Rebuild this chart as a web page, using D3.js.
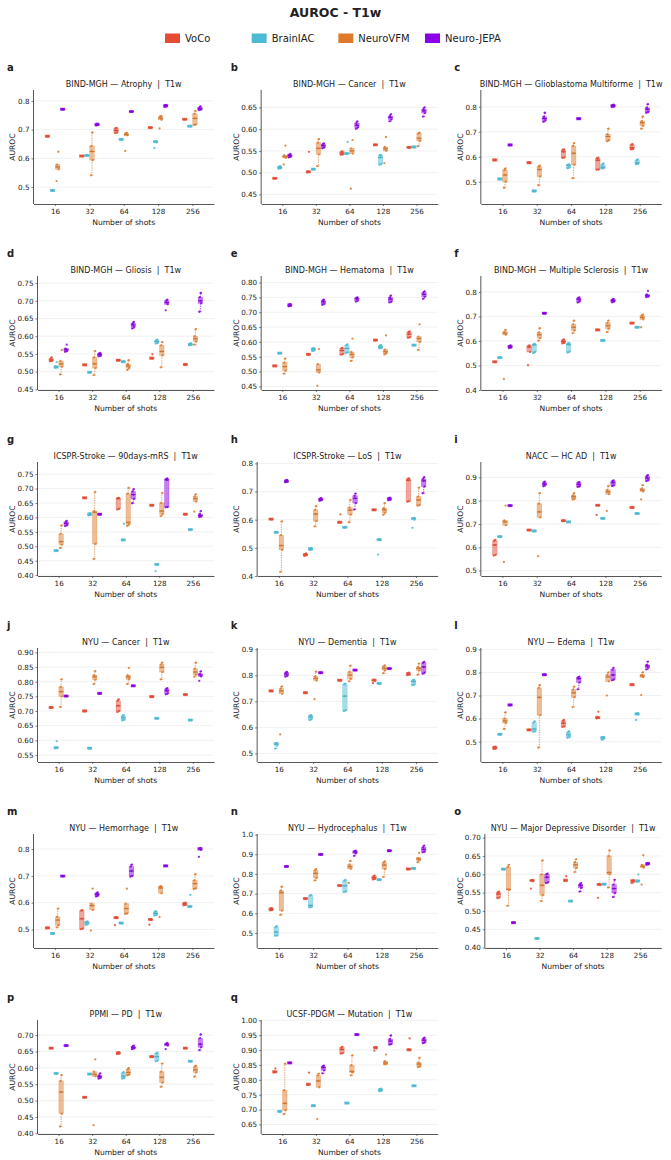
<!DOCTYPE html>
<html>
<head>
<meta charset="utf-8">
<script src="https://cdn.jsdelivr.net/npm/d3@7"></script>
<style>
  body { margin: 0; background: #fff; }
  text { font-family: "DejaVu Sans", sans-serif; fill: #222; }
</style>
</head>
<body>
<svg id="svg"></svg>
<script>
// shots and models
const shots = [16, 32, 64, 128, 256];
const models = ["VoCo", "BrainIAC", "NeuroVFM", "Neuro-JEPA"];
const modelColors = ["#E64B35", "#4DBBD5", "#DD7A2C", "#8B00E6"];

const panelLetters = ["a","b","c","d","e","f","g","h","i","j","k","l","m","n","o","p","q"];
const panelTitles = [
  "BIND-MGH — Atrophy  |  T1w",
  "BIND-MGH — Cancer  |  T1w",
  "BIND-MGH — Glioblastoma Multiforme  |  T1w",
  "BIND-MGH — Gliosis  |  T1w",
  "BIND-MGH — Hematoma  |  T1w",
  "BIND-MGH — Multiple Sclerosis  |  T1w",
  "ICSPR-Stroke — 90days-mRS  |  T1w",
  "ICSPR-Stroke — LoS  |  T1w",
  "NACC — HC AD  |  T1w",
  "NYU — Cancer  |  T1w",
  "NYU — Dementia  |  T1w",
  "NYU — Edema  |  T1w",
  "NYU — Hemorrhage  |  T1w",
  "NYU — Hydrocephalus  |  T1w",
  "NYU — Major Depressive Disorder  |  T1w",
  "PPMI — PD  |  T1w",
  "UCSF-PDGM — Mutation  |  T1w"
];

const yDomains = [
  [0.441, 0.838], [0.428, 0.69], [0.411, 0.867],
  [0.448, 0.77], [0.438, 0.822], [0.40, 0.865],
  [0.397, 0.792], [0.40, 0.805], [0.477, 0.966],
  [0.526, 0.915], [0.467, 0.905], [0.412, 0.906],
  [0.431, 0.856], [0.424, 1.003], [0.399, 0.71],
  [0.398, 0.746], [0.618, 1.001]
];

const yTicks = [
  [0.5, 0.6, 0.7, 0.8],
  [0.45, 0.50, 0.55, 0.60, 0.65],
  [0.5, 0.6, 0.7, 0.8],
  [0.45, 0.50, 0.55, 0.60, 0.65, 0.70, 0.75],
  [0.45, 0.50, 0.55, 0.60, 0.65, 0.70, 0.75, 0.80],
  [0.4, 0.5, 0.6, 0.7, 0.8],
  [0.40, 0.45, 0.50, 0.55, 0.60, 0.65, 0.70, 0.75],
  [0.4, 0.5, 0.6, 0.7, 0.8],
  [0.5, 0.6, 0.7, 0.8, 0.9],
  [0.55, 0.60, 0.65, 0.70, 0.75, 0.80, 0.85, 0.90],
  [0.5, 0.6, 0.7, 0.8, 0.9],
  [0.5, 0.6, 0.7, 0.8, 0.9],
  [0.5, 0.6, 0.7, 0.8],
  [0.5, 0.6, 0.7, 0.8, 0.9, 1.0],
  [0.40, 0.45, 0.50, 0.55, 0.60, 0.65, 0.70],
  [0.40, 0.45, 0.50, 0.55, 0.60, 0.65, 0.70],
  [0.65, 0.70, 0.75, 0.80, 0.85, 0.90, 0.95, 1.00]
];

// each panel: rows = models, columns = shots
// entry is a single value (all seeds equal) or [min, q1, median, q3, max]
const atrophy = [
  [0.677, 0.608, [0.688,0.690,0.697,0.705,0.706], 0.707, 0.736],
  [0.488, 0.610, 0.666, [0.636,0.656,0.658,0.658,0.659], 0.712],
  [[0.521,0.562,0.570,0.578,0.623],[0.541,0.594,0.624,0.643,0.690],[0.626,0.680,0.683,0.687,0.689],[0.704,0.734,0.740,0.745,0.748],[0.716,0.718,0.739,0.755,0.765]],
  [0.771, [0.714,0.716,0.718,0.720,0.721], 0.763, [0.779,0.781,0.783,0.785,0.786], [0.768,0.770,0.773,0.777,0.781]]
];
const cancerMGH = [
  [0.487, [0.501,0.502,0.502,0.503,0.548], [0.541,0.542,0.545,0.548,0.549], 0.564, 0.558],
  [[0.509,0.510,0.512,0.514,0.515], 0.508, [0.543,0.544,0.544,0.545,0.571], [0.518,0.520,0.535,0.540,0.541], 0.559],
  [[0.519,0.534,0.537,0.540,0.562],[0.515,0.542,0.556,0.569,0.577],[0.463,0.544,0.550,0.556,0.575],[0.522,0.550,0.555,0.559,0.582],[0.561,0.573,0.579,0.590,0.592]],
  [[0.535,0.537,0.539,0.541,0.543],[0.556,0.558,0.562,0.565,0.567],[0.601,0.604,0.609,0.614,0.618],[0.618,0.622,0.627,0.630,0.634],[0.629,0.637,0.642,0.646,0.650]]
];
const glioblastoma = [
  [0.587, 0.576, [0.596,0.597,0.620,0.628,0.629], [0.548,0.549,0.586,0.594,0.596], [0.629,0.631,0.636,0.648,0.650]],
  [0.511, 0.463, [0.554,0.557,0.566,0.568,0.569], [0.553,0.554,0.558,0.568,0.573], [0.570,0.572,0.576,0.586,0.589]],
  [[0.476,0.500,0.527,0.547,0.553],[0.486,0.521,0.549,0.560,0.564],[0.514,0.568,0.614,0.643,0.654],[0.662,0.666,0.681,0.690,0.712],[0.712,0.724,0.736,0.742,0.760]],
  [0.647, [0.740,0.745,0.753,0.760,0.776], 0.752, [0.799,0.801,0.804,0.806,0.808], [0.776,0.779,0.790,0.796,0.810]]
];
const gliosis = [
  [[0.529,0.531,0.533,0.536,0.540], 0.519, 0.532, [0.537,0.537,0.538,0.539,0.549], 0.520],
  [[0.511,0.512,0.513,0.515,0.527], 0.498, 0.528, [0.579,0.581,0.585,0.588,0.590], [0.574,0.576,0.577,0.578,0.580]],
  [[0.492,0.514,0.522,0.530,0.561],[0.490,0.510,0.522,0.540,0.558],[0.505,0.510,0.516,0.521,0.532],[0.512,0.546,0.557,0.574,0.583],[0.576,0.585,0.593,0.600,0.620]],
  [[0.556,0.558,0.562,0.565,0.576],[0.543,0.545,0.548,0.551,0.553],[0.622,0.626,0.632,0.636,0.640],[0.673,0.690,0.695,0.700,0.703],[0.669,0.693,0.700,0.710,0.722]]
];
const hematoma = [
  [0.519, 0.558, [0.557,0.559,0.571,0.578,0.580], 0.606, [0.614,0.616,0.626,0.633,0.635]],
  [0.562, [0.569,0.571,0.575,0.578,0.579], [0.563,0.565,0.578,0.589,0.592], [0.578,0.579,0.583,0.587,0.589], 0.589],
  [[0.493,0.503,0.517,0.530,0.544],[0.452,0.497,0.506,0.525,0.576],[0.536,0.548,0.558,0.566,0.611],[0.558,0.562,0.567,0.574,0.622],[0.573,0.600,0.611,0.618,0.659]],
  [[0.720,0.722,0.724,0.726,0.727],[0.725,0.728,0.735,0.739,0.742],[0.736,0.739,0.745,0.748,0.750],[0.733,0.736,0.744,0.750,0.756],[0.745,0.752,0.760,0.766,0.770]]
];
const sclerosis = [
  [0.515, [0.501,0.555,0.575,0.580,0.582], [0.590,0.592,0.598,0.604,0.606], 0.645, 0.673],
  [0.532, [0.551,0.555,0.584,0.586,0.588], [0.553,0.556,0.585,0.590,0.592], 0.602, 0.656],
  [[0.445,0.625,0.632,0.637,0.645],[0.601,0.612,0.625,0.635,0.652],[0.632,0.643,0.656,0.668,0.683],[0.636,0.650,0.662,0.674,0.683],[0.656,0.688,0.696,0.703,0.707]],
  [[0.571,0.573,0.577,0.580,0.582], 0.713, [0.757,0.762,0.770,0.775,0.778], [0.758,0.761,0.765,0.769,0.772], [0.779,0.781,0.785,0.790,0.804]]
];
const mrs90 = [
  [null, 0.668, [0.627,0.630,0.665,0.667,0.668], 0.642, 0.611],
  [0.485, [0.607,0.609,0.611,0.613,0.615], [0.521,0.522,0.522,0.523,0.578], [0.414,0.436,0.437,0.437,0.438], 0.558],
  [[0.494,0.506,0.516,0.543,0.572],[0.456,0.508,0.618,0.622,0.688],[0.571,0.576,0.583,0.682,0.702],[0.605,0.612,0.622,0.650,0.685],[0.620,0.655,0.665,0.673,0.680]],
  [[0.570,0.573,0.579,0.584,0.588], 0.611, [0.649,0.664,0.679,0.690,0.698], [0.635,0.636,0.730,0.733,0.735], [0.601,0.603,0.607,0.612,0.622]]
];
const los = [
  [0.602, [0.471,0.474,0.476,0.478,0.480], [0.589,0.590,0.591,0.592,0.619], 0.635, [0.664,0.666,0.740,0.745,0.747]],
  [0.555, [0.493,0.495,0.496,0.498,0.500], 0.573, [0.476,0.528,0.529,0.530,0.531], [0.571,0.600,0.604,0.605,0.606]],
  [[0.415,0.493,0.508,0.545,0.594],[0.576,0.595,0.620,0.635,0.648],[0.591,0.618,0.634,0.643,0.670],[0.618,0.625,0.635,0.641,0.659],[0.650,0.652,0.670,0.682,0.714]],
  [[0.733,0.735,0.737,0.739,0.741],[0.667,0.670,0.672,0.675,0.677],[0.636,0.659,0.676,0.685,0.693],[0.669,0.671,0.674,0.676,0.678],[0.694,0.718,0.738,0.745,0.751]]
];
const hcAD = [
  [[0.565,0.568,0.610,0.628,0.632], 0.674, 0.714, [0.739,0.779,0.780,0.781,0.782], 0.771],
  [0.646, 0.670, 0.709, 0.724, 0.745],
  [[0.537,0.695,0.709,0.716,0.779],[0.562,0.728,0.752,0.787,0.832],[0.805,0.808,0.817,0.823,0.832],[0.756,0.828,0.838,0.846,0.863],[0.806,0.839,0.846,0.852,0.867]],
  [0.779, [0.862,0.867,0.872,0.878,0.882], [0.859,0.862,0.870,0.877,0.880], [0.863,0.866,0.877,0.884,0.887], [0.884,0.888,0.897,0.905,0.910]]
];
const cancerNYU = [
  [0.712, 0.700, [0.697,0.700,0.718,0.735,0.740], 0.749, 0.756],
  [[0.573,0.574,0.575,0.576,0.597], 0.573, [0.668,0.670,0.677,0.683,0.686], 0.675, 0.669],
  [[0.714,0.750,0.766,0.782,0.808],[0.792,0.807,0.817,0.822,0.836],[0.792,0.808,0.816,0.822,0.847],[0.808,0.833,0.849,0.859,0.865],[0.817,0.824,0.833,0.844,0.865]],
  [0.751, 0.760, 0.786, [0.757,0.760,0.769,0.775,0.778], [0.803,0.818,0.823,0.827,0.835]]
];
const dementia = [
  [0.740, 0.733, 0.781, [0.770,0.779,0.781,0.782,0.783], [0.801,0.803,0.805,0.808,0.810]],
  [[0.519,0.530,0.536,0.538,0.540],[0.628,0.632,0.640,0.645,0.647],[0.663,0.666,0.720,0.765,0.768], 0.769, [0.762,0.765,0.776,0.781,0.783]],
  [[0.573,0.729,0.740,0.749,0.757],[0.708,0.780,0.788,0.796,0.814],[0.777,0.786,0.801,0.813,0.837],[0.808,0.819,0.827,0.834,0.838],[0.802,0.819,0.827,0.832,0.845]],
  [[0.795,0.798,0.805,0.810,0.813], 0.810, 0.820, 0.826, [0.806,0.810,0.832,0.848,0.852]]
];
const edema = [
  [[0.468,0.470,0.474,0.477,0.478], 0.551, [0.564,0.566,0.580,0.590,0.594], [0.601,0.603,0.605,0.607,0.630], 0.747],
  [0.532, [0.543,0.545,0.555,0.583,0.588], [0.517,0.520,0.530,0.540,0.545], [0.508,0.513,0.517,0.519,0.521], [0.594,0.618,0.620,0.622,0.624]],
  [[0.555,0.581,0.590,0.600,0.627],[0.474,0.615,0.692,0.733,0.745],[0.650,0.693,0.712,0.726,0.738],[0.700,0.761,0.781,0.790,0.800],[0.702,0.780,0.785,0.788,0.800]],
  [0.659, 0.790, [0.727,0.757,0.773,0.779,0.782], [0.766,0.770,0.789,0.812,0.820], [0.813,0.820,0.828,0.833,0.847]]
];
const hemorrhage = [
  [0.506, [0.501,0.503,0.540,0.570,0.572], [0.516,0.543,0.544,0.545,0.546], [0.518,0.535,0.537,0.538,0.539], [0.590,0.592,0.595,0.598,0.600]],
  [0.485, [0.517,0.520,0.525,0.528,0.530], 0.524, [0.552,0.554,0.560,0.566,0.568], [0.584,0.585,0.586,0.587,0.629]],
  [[0.508,0.516,0.535,0.547,0.578],[0.496,0.573,0.589,0.596,0.652],[0.558,0.560,0.578,0.596,0.652],[0.547,0.635,0.655,0.660,0.662],[0.651,0.653,0.671,0.683,0.706]],
  [0.699, [0.623,0.626,0.631,0.635,0.638], [0.697,0.700,0.718,0.735,0.742], 0.737, [0.771,0.797,0.800,0.802,0.804]]
];
const hydrocephalus = [
  [[0.615,0.617,0.621,0.625,0.627], 0.675, 0.741, [0.772,0.775,0.781,0.788,0.792], 0.825],
  [[0.486,0.488,0.505,0.530,0.535],[0.630,0.632,0.640,0.690,0.693],[0.708,0.711,0.740,0.765,0.770], 0.771, 0.828],
  [[0.592,0.614,0.705,0.715,0.735],[0.767,0.780,0.803,0.818,0.825],[0.755,0.826,0.837,0.847,0.866],[0.785,0.825,0.845,0.858,0.864],[0.860,0.870,0.876,0.880,0.907]],
  [0.838, 0.899, [0.892,0.905,0.911,0.916,0.918], 0.918, [0.910,0.913,0.925,0.936,0.944]]
];
const depressive = [
  [[0.535,0.537,0.546,0.551,0.553],[0.561,0.581,0.583,0.584,0.585],[0.582,0.583,0.584,0.585,0.595],[0.536,0.571,0.572,0.573,0.574],[0.576,0.580,0.582,0.583,0.584]],
  [0.614, 0.425, 0.527, 0.573, [0.580,0.581,0.582,0.583,0.600]],
  [[0.514,0.557,0.559,0.620,0.626],[0.527,0.543,0.570,0.600,0.638],[0.606,0.617,0.626,0.633,0.641],[0.564,0.600,0.605,0.650,0.665],[0.572,0.618,0.622,0.626,0.652]],
  [0.468, [0.576,0.578,0.592,0.600,0.602], [0.553,0.563,0.569,0.573,0.576], [0.538,0.549,0.561,0.572,0.585], [0.626,0.628,0.629,0.630,0.631]]
];
const parkinson = [
  [0.660, 0.510, [0.642,0.644,0.645,0.646,0.648], 0.634, 0.660],
  [0.583, 0.581, [0.567,0.569,0.575,0.584,0.587], [0.620,0.623,0.634,0.643,0.646], 0.620],
  [[0.421,0.460,0.526,0.560,0.578],[0.425,0.574,0.580,0.588,0.626],[0.577,0.579,0.586,0.595,0.599],[0.542,0.555,0.571,0.588,0.613],[0.573,0.586,0.594,0.603,0.606]],
  [0.668, [0.567,0.570,0.573,0.577,0.583], [0.657,0.660,0.662,0.665,0.668], [0.657,0.668,0.671,0.673,0.676], [0.654,0.663,0.672,0.690,0.702]]
];
const mutation = [
  [[0.825,0.826,0.827,0.828,0.838],[0.783,0.784,0.785,0.786,0.824],[0.888,0.890,0.902,0.908,0.911],[0.898,0.906,0.908,0.909,0.910],[0.900,0.900,0.901,0.902,0.939]],
  [0.694, 0.713, 0.722, [0.762,0.764,0.766,0.768,0.770], 0.780],
  [[0.685,0.698,0.721,0.765,0.854],[0.668,0.775,0.796,0.815,0.821],[0.815,0.825,0.828,0.849,0.882],[0.852,0.853,0.857,0.863,0.885],[0.843,0.845,0.853,0.858,0.874]],
  [0.857, [0.822,0.832,0.841,0.845,0.848], 0.952, [0.918,0.920,0.930,0.937,0.949], [0.923,0.926,0.933,0.938,0.942]]
];

const panelData = [atrophy, cancerMGH, glioblastoma, gliosis, hematoma, sclerosis,
  mrs90, los, hcAD, cancerNYU, dementia, edema, hemorrhage, hydrocephalus,
  depressive, parkinson, mutation];

// layout
const width = 671, height = 1160;
const colW = width / 3;
const rowH = 186;

const svg = d3.select("#svg")
  .attr("width", width)
  .attr("height", height);

// figure title
svg.append("text")
  .attr("x", width / 2)
  .attr("y", 16.5)
  .attr("text-anchor", "middle")
  .attr("font-size", "12.5px")
  .attr("font-weight", "bold")
  .attr("fill", "#111")
  .text("AUROC - T1w");

// legend
const legendX = d3.scalePoint().domain(models).range([165, 425]);
const legend = svg.append("g");
models.forEach((m, k) => {
  legend.append("rect")
    .attr("x", legendX(m)).attr("y", 33.5)
    .attr("width", 15).attr("height", 9.5)
    .attr("fill", modelColors[k]);
  legend.append("text")
    .attr("x", legendX(m) + 20).attr("y", 42)
    .attr("font-size", "10px")
    .text(m);
});

const jitter = [-1.1, 0.9, 0, -0.6, 0.6];

panelData.forEach((data, i) => {
  const col = i % 3, row = Math.floor(i / 3);
  const x0 = col * colW, y0 = 67 + row * rowH;
  const ticks = yTicks[i];
  const twoDec = (ticks[1] - ticks[0]) < 0.09;
  const fmt = d3.format(twoDec ? ".2f" : ".1f");
  const left = x0 + (twoDec ? 37.5 : 33.5);
  const right = x0 + 214;
  const top = y0 + 23, bottom = y0 + 137;

  const xScale = d3.scalePoint().domain(shots).range([left, right]).padding(0.63);
  const step = xScale.step();
  const inner = d3.scaleBand().domain(models)
    .range([-0.29 * step, 0.29 * step]).paddingInner(0.1);
  const yScale = d3.scaleLinear().domain(yDomains[i]).range([bottom, top]);

  const g = svg.append("g");

  // letter
  g.append("text")
    .attr("x", x0 + 7).attr("y", y0 + 3.5)
    .attr("font-size", "10px").attr("font-weight", "bold").attr("fill", "#111")
    .text(panelLetters[i]);

  // title
  g.append("text")
    .attr("x", (left + right) / 2).attr("y", y0 + 20)
    .attr("text-anchor", "middle")
    .attr("font-size", "8px")
    .style("white-space", "pre")
    .text(panelTitles[i]);

  // grid
  g.append("g").selectAll("line")
    .data(ticks).enter().append("line")
    .attr("x1", left).attr("x2", right)
    .attr("y1", d => yScale(d)).attr("y2", d => yScale(d))
    .attr("stroke", "#ebebeb").attr("stroke-width", 0.7);

  // axes
  const yAxis = g.append("g")
    .attr("transform", `translate(${left},0)`)
    .call(d3.axisLeft(yScale).tickValues(ticks).tickFormat(fmt).tickSize(2).tickSizeOuter(0).tickPadding(2));
  const xAxis = g.append("g")
    .attr("transform", `translate(0,${bottom})`)
    .call(d3.axisBottom(xScale).tickSize(2).tickSizeOuter(0).tickPadding(2.5));
  [yAxis, xAxis].forEach(ax => {
    ax.select(".domain").attr("stroke", "#444").attr("stroke-width", 0.9);
    ax.selectAll(".tick line").attr("stroke", "#444").attr("stroke-width", 0.7);
    ax.selectAll(".tick text").attr("font-size", "7.2px").attr("fill", "#333")
      .attr("font-family", "DejaVu Sans");
  });
  // y domain line spans full height
  yAxis.select(".domain").attr("d", `M0,${bottom}V${top}`);

  // axis labels
  g.append("text")
    .attr("x", (left + right) / 2).attr("y", bottom + 20.5)
    .attr("text-anchor", "middle")
    .attr("font-size", "7.6px")
    .text("Number of shots");
  g.append("text")
    .attr("transform", `translate(${x0 + 12.5},${(top + bottom) / 2}) rotate(-90)`)
    .attr("text-anchor", "middle")
    .attr("dy", "0.35em")
    .attr("font-size", "7.6px")
    .text("AUROC");

  // boxes
  data.forEach((series, k) => {
    const color = modelColors[k];
    const dark = d3.color(color).darker(0.7).formatHex();
    series.forEach((entry, j) => {
      if (entry === null) return;
      const s = typeof entry === "number" ? [entry, entry, entry, entry, entry] : entry;
      const [mn, q1, med, q3, mx] = s;
      const bw = inner.bandwidth();
      const cx = xScale(shots[j]) + inner(models[k]) + bw / 2;
      const iqr = q3 - q1;
      const lo = (q1 - mn) <= 1.5 * iqr ? mn : q1;
      const hi = (mx - q3) <= 1.5 * iqr ? mx : q3;

      // whiskers
      if (lo < q1) {
        g.append("line").attr("x1", cx).attr("x2", cx)
          .attr("y1", yScale(q1)).attr("y2", yScale(lo))
          .attr("stroke", color).attr("stroke-width", 0.7).attr("stroke-dasharray", "1.4,1");
        g.append("line").attr("x1", cx - bw * 0.25).attr("x2", cx + bw * 0.25)
          .attr("y1", yScale(lo)).attr("y2", yScale(lo))
          .attr("stroke", color).attr("stroke-width", 0.7);
      }
      if (hi > q3) {
        g.append("line").attr("x1", cx).attr("x2", cx)
          .attr("y1", yScale(q3)).attr("y2", yScale(hi))
          .attr("stroke", color).attr("stroke-width", 0.7).attr("stroke-dasharray", "1.4,1");
        g.append("line").attr("x1", cx - bw * 0.25).attr("x2", cx + bw * 0.25)
          .attr("y1", yScale(hi)).attr("y2", yScale(hi))
          .attr("stroke", color).attr("stroke-width", 0.7);
      }

      // box
      let by = yScale(q3), bh = yScale(q1) - yScale(q3);
      if (bh < 2.6) { by = yScale(med) - 1.3; bh = 2.6; }
      g.append("rect")
        .attr("x", cx - bw / 2).attr("y", by)
        .attr("width", bw).attr("height", bh)
        .attr("fill", color).attr("fill-opacity", 0.5)
        .attr("stroke", color).attr("stroke-opacity", 0.5).attr("stroke-width", 0.5);

      // median
      g.append("line")
        .attr("x1", cx - bw / 2).attr("x2", cx + bw / 2)
        .attr("y1", yScale(med)).attr("y2", yScale(med))
        .attr("stroke", dark).attr("stroke-width", 0.9);

      // points
      g.append("g").selectAll("circle")
        .data(s).enter().append("circle")
        .attr("cx", (d, n) => cx + jitter[n])
        .attr("cy", d => yScale(d))
        .attr("r", 1.15)
        .attr("fill", color).attr("fill-opacity", 0.85);
    });
  });
});
</script>
</body>
</html>
